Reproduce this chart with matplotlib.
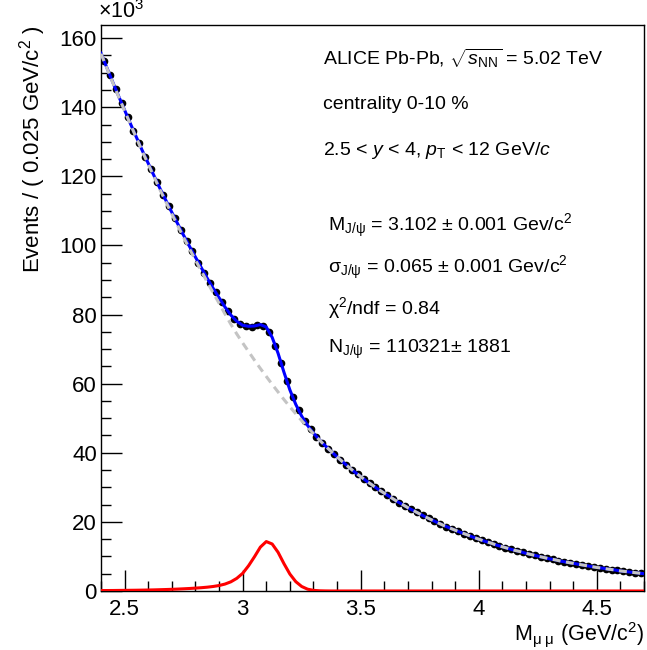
import numpy as np
import matplotlib
matplotlib.use("Agg")
import matplotlib.pyplot as plt

plt.rcParams["font.family"] = ["Liberation Sans", "DejaVu Sans"]
plt.rcParams["mathtext.fontset"] = "custom"
plt.rcParams["mathtext.rm"] = "Liberation Sans"
plt.rcParams["mathtext.it"] = "Liberation Sans:italic"
plt.rcParams["mathtext.bf"] = "Liberation Sans:bold"

# counts per bin, x10^3, bin centres 2.4125 ... 4.6875 (width 0.025)
bin_lo, bin_w = 2.4, 0.025
counts = [
    153.5, 149.3, 145.2, 141.2, 137.2, 133.0, 129.7, 125.6, 122.0, 118.3,
    114.7, 111.3, 107.9, 104.6, 101.3, 98.4, 94.8, 92.1, 89.2, 86.4,
    83.7, 80.9, 78.6, 77.3, 76.6, 76.4, 77.0, 76.7, 74.9, 71.0,
    66.0, 60.8, 56.1, 52.3, 49.3, 46.8, 44.7, 42.9, 41.2, 39.6,
    38.05, 36.55, 35.1, 33.75, 32.45, 31.2, 30.0, 28.85, 27.75, 26.65,
    25.6, 24.6, 23.65, 22.75, 21.85, 21.0, 20.2, 19.4, 18.65, 17.95,
    17.25, 16.6, 15.95, 15.3, 14.7, 14.15, 13.6, 13.05, 12.55, 12.05,
    11.6, 11.15, 10.7, 10.3, 9.9, 9.5, 9.15, 8.8, 8.45, 8.15,
    7.85, 7.55, 7.25, 6.95, 6.7, 6.45, 6.2, 5.95, 5.7, 5.5,
    5.3, 5.1,
]

# fit components on a 0.025 grid from 2.4 to 4.7 (x10^3)
fit_lo, fit_step = 2.4, 0.025
bkg = [
    155.5, 151.3, 147.1, 143.0, 139.0, 135.0, 131.1, 127.2, 123.5, 119.8,
    116.1, 112.6, 109.1, 105.7, 102.3, 99.0, 95.8, 92.6, 89.4, 86.3,
    83.3, 80.2, 77.2, 74.4, 71.8, 69.3, 66.8, 64.4, 62.1, 59.8,
    57.6, 55.4, 53.3, 51.3, 49.3, 47.4, 45.5, 43.7, 42.0, 40.4,
    38.8, 37.3, 35.8, 34.4, 33.1, 31.8, 30.6, 29.4, 28.3, 27.2,
    26.1, 25.1, 24.1, 23.2, 22.3, 21.4, 20.6, 19.8, 19.0, 18.3,
    17.6, 16.9, 16.3, 15.6, 15.0, 14.4, 13.9, 13.3, 12.8, 12.3,
    11.8, 11.4, 10.9, 10.5, 10.1, 9.7, 9.3, 9.0, 8.6, 8.3,
    8.0, 7.7, 7.4, 7.1, 6.8, 6.6, 6.3, 6.1, 5.8, 5.6,
    5.4, 5.2, 5.0,
]
signal = [
    0.12, 0.13, 0.14, 0.16, 0.18, 0.20, 0.22, 0.25, 0.28, 0.32,
    0.37, 0.42, 0.48, 0.55, 0.63, 0.72, 0.83, 0.95, 1.10, 1.30,
    1.58, 2.00, 2.65, 3.65, 5.10, 7.30, 9.90, 12.70, 14.30, 13.60,
    11.20, 7.90, 4.90, 2.70, 1.30, 0.52, 0.18, 0.06, 0.02,
] + [0.0] * 54

x_data = bin_lo + bin_w * (np.arange(len(counts)) + 0.5)
x_fit = fit_lo + fit_step * np.arange(len(bkg))
total = np.array(bkg) + np.array(signal)

fig = plt.figure(figsize=(6.47, 6.5), dpi=100)
ax = fig.add_axes([0.1561, 0.0908, 0.8393, 0.8707])

ax.plot(x_data, counts, "o", color="black", ms=4.5, zorder=2)
ax.plot(x_fit, total, color="#0000ff", lw=2.2, zorder=3)
ax.plot(x_fit, bkg, color="#c4c4c4", lw=2.2, dashes=(2.6, 1.8), zorder=4)
ax.plot(x_fit, signal, color="#ff0000", lw=2.2, zorder=5)

ax.set_xlim(2.4, 4.7)
ax.set_ylim(0, 163.8)
ax.set_xticks([2.5, 3, 3.5, 4, 4.5])
ax.set_xticklabels(["2.5", "3", "3.5", "4", "4.5"])
ax.set_xticks(np.arange(2.4, 4.71, 0.1), minor=True)
ax.set_yticks([0, 20, 40, 60, 80, 100, 120, 140, 160])
ax.set_yticks(np.arange(0, 164, 5), minor=True)
ax.tick_params(which="both", direction="in", top=False, right=False,
               labelsize=16, width=1)
ax.tick_params(which="major", length=15)
ax.tick_params(which="minor", length=7)
ax.tick_params(axis="x", pad=6)
ax.tick_params(axis="y", pad=3)
for s in ax.spines.values():
    s.set_linewidth(1)

ax.set_ylabel("Events / ( 0.025 GeV/c$^{2}$ )", fontsize=16, loc="top", labelpad=8)
ax.set_xlabel(r"M$_{\mathrm{μ\ μ}}$ (GeV/c$^{2}$)", fontsize=15.5, loc="right", labelpad=0)
fig.text(0.152, 0.972, r"$\times$10$^{3}$", fontsize=15.5, ha="left", va="baseline")

lines = [
    (0.499, 0.9105, r"ALICE Pb-Pb, $\sqrt{s_{\mathrm{NN}}}$ = 5.02 TeV"),
    (0.499, 0.8385, "centrality 0-10 %"),
    (0.499, 0.7685, r"2.5 < $y$ < 4, $p_{\mathrm{T}}$ < 12 GeV/$c$"),
    (0.507, 0.6525, r"M$_{\mathrm{J/ψ}}$ = 3.102 $\pm$ 0.001 Gev/c$^{2}$"),
    (0.507, 0.5885, r"σ$_{\mathrm{J/ψ}}$ = 0.065 $\pm$ 0.001 Gev/c$^{2}$"),
    (0.507, 0.5255, r"χ$^{2}$/ndf = 0.84"),
    (0.507, 0.4625, r"N$_{\mathrm{J/ψ}}$ = 110321$\pm$ 1881"),
]
for xx, yy, txt in lines:
    fig.text(xx, yy, txt, fontsize=14, ha="left", va="center")

fig.savefig("out.png", dpi=100)
